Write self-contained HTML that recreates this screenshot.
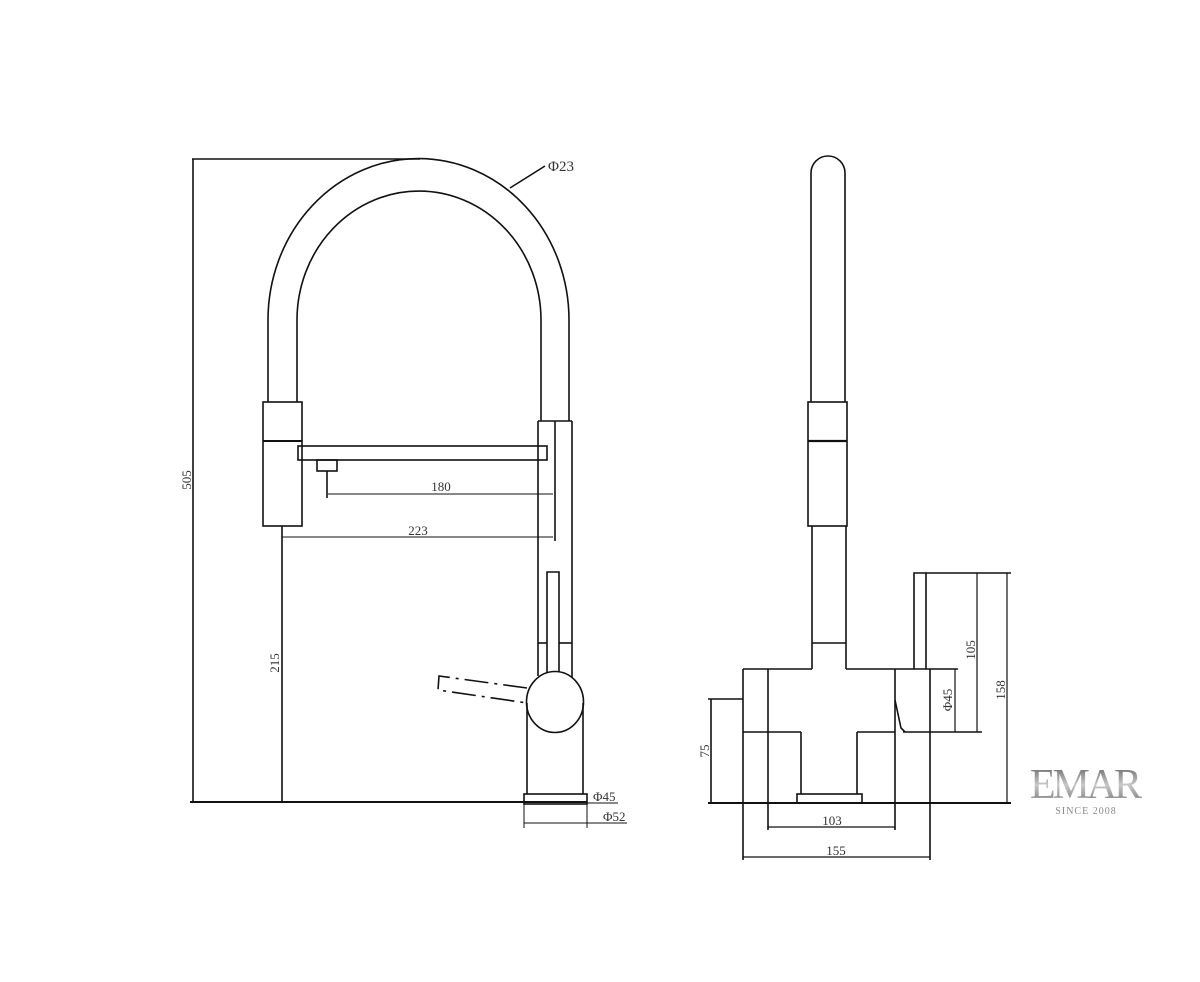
<!DOCTYPE html>
<html><head><meta charset="utf-8"><style>
html,body{margin:0;padding:0;background:#fff}
svg{display:block}
text{font-family:"Liberation Serif",serif;fill:#333}
</style></head><body>
<svg width="1200" height="982" viewBox="0 0 1200 982" xmlns="http://www.w3.org/2000/svg">
<defs><linearGradient id="g" x1="0" y1="0" x2="0" y2="1"><stop offset="0" stop-color="#555"/><stop offset="0.5" stop-color="#c8c8c8"/><stop offset="1" stop-color="#666"/></linearGradient></defs>
<g fill="none" stroke="#111" stroke-width="1.6">
<!-- front view -->
<line x1="192" y1="159" x2="420" y2="159"/>
<line x1="193" y1="159" x2="193" y2="802"/>
<path d="M268 402 L268 320 A150 161 0 0 1 569 320 L569 421"/>
<path d="M297 402 L297 320 A122 129 0 0 1 541 320 L541 421"/>
<line x1="510" y1="188" x2="545" y2="166"/>
<rect x="263" y="402" width="39" height="124"/>
<line x1="263" y1="441" x2="302" y2="441" stroke-width="2"/>
<rect x="298" y="446" width="249" height="14"/>
<rect x="317" y="460" width="20" height="11"/>
<line x1="327" y1="471" x2="327" y2="498"/>
<line x1="328" y1="494" x2="553" y2="494" stroke-width="1"/>
<line x1="282" y1="537" x2="553" y2="537" stroke-width="1"/>
<line x1="282" y1="526" x2="282" y2="802"/>
<line x1="538" y1="421" x2="572" y2="421"/>
<line x1="538" y1="421" x2="538" y2="676"/>
<line x1="572" y1="421" x2="572" y2="680"/>
<line x1="555" y1="421" x2="555" y2="541"/>
<line x1="538" y1="643" x2="547" y2="643"/>
<line x1="559" y1="643" x2="572" y2="643"/>
<path d="M547 672 L547 572 L559 572 L559 672"/>
<path d="M527 688 L439 676 L438 690 L527 703" stroke-dasharray="24 6 3 6"/>
<ellipse cx="555" cy="702" rx="28.5" ry="30.5" fill="#fff"/>
<line x1="527" y1="703" x2="527" y2="794"/>
<line x1="583" y1="703" x2="583" y2="794"/>
<rect x="524" y="794" width="63" height="10"/>
<line x1="190" y1="802" x2="587" y2="802" stroke-width="2"/>
<line x1="587" y1="803" x2="618" y2="803" stroke-width="1"/>
<line x1="524" y1="804" x2="524" y2="828" stroke-width="1"/>
<line x1="587" y1="804" x2="587" y2="828" stroke-width="1"/>
<line x1="524" y1="823" x2="627" y2="823" stroke-width="1"/>
<!-- side view -->
<path d="M811 402 L811 173 A17 17 0 0 1 845 173 L845 402"/>
<rect x="808" y="402" width="39" height="124"/>
<line x1="808" y1="441" x2="847" y2="441" stroke-width="2.2"/>
<line x1="812" y1="526" x2="812" y2="669"/>
<line x1="846" y1="526" x2="846" y2="669"/>
<line x1="812" y1="643" x2="846" y2="643"/>
<line x1="743" y1="669" x2="812" y2="669"/>
<line x1="846" y1="669" x2="958" y2="669"/>
<line x1="743" y1="669" x2="743" y2="860"/>
<line x1="768" y1="669" x2="768" y2="830"/>
<line x1="708" y1="699" x2="743" y2="699"/>
<line x1="711" y1="699" x2="711" y2="803"/>
<line x1="743" y1="732" x2="801" y2="732"/>
<line x1="857" y1="732" x2="895" y2="732"/>
<line x1="903" y1="732" x2="982" y2="732"/>
<line x1="801" y1="732" x2="801" y2="794"/>
<line x1="857" y1="732" x2="857" y2="794"/>
<rect x="797" y="794" width="65" height="9"/>
<line x1="895" y1="669" x2="895" y2="830"/>
<line x1="930" y1="669" x2="930" y2="860"/>
<path d="M895 700 L901 728 L905 732"/>
<path d="M914 669 L914 573 L926 573 L926 669"/>
<line x1="926" y1="573" x2="1011" y2="573"/>
<line x1="977" y1="573" x2="977" y2="732" stroke-width="1.2"/>
<line x1="1007" y1="573" x2="1007" y2="803" stroke-width="1.2"/>
<line x1="955" y1="669" x2="955" y2="732" stroke-width="1.2"/>
<line x1="708" y1="803" x2="1011" y2="803" stroke-width="2"/>
<line x1="768" y1="827" x2="895" y2="827" stroke-width="1.2"/>
<line x1="743" y1="857" x2="930" y2="857" stroke-width="1.2"/>
</g>
<g font-size="13">
<text x="548" y="171" font-size="15">Φ23</text>
<text x="441" y="491" text-anchor="middle">180</text>
<text x="418" y="535" text-anchor="middle">223</text>
<text x="593" y="801">Φ45</text>
<text x="603" y="821">Φ52</text>
<text transform="translate(191,480) rotate(-90)" text-anchor="middle">505</text>
<text transform="translate(279,663) rotate(-90)" text-anchor="middle">215</text>
<text transform="translate(709,751) rotate(-90)" text-anchor="middle">75</text>
<text transform="translate(975,650) rotate(-90)" text-anchor="middle">105</text>
<text transform="translate(1005,690) rotate(-90)" text-anchor="middle">158</text>
<text transform="translate(952,700) rotate(-90)" text-anchor="middle">Φ45</text>
<text x="832" y="825" text-anchor="middle">103</text>
<text x="836" y="855" text-anchor="middle">155</text>
</g>
<text x="1086" y="798" text-anchor="middle" font-size="42" style="fill:url(#g)" textLength="112">EMAR</text>
<text x="1086" y="814" text-anchor="middle" font-size="10" font-family="Liberation Sans, sans-serif" style="fill:#888" letter-spacing="1">SINCE 2008</text>
</svg>
</body></html>
